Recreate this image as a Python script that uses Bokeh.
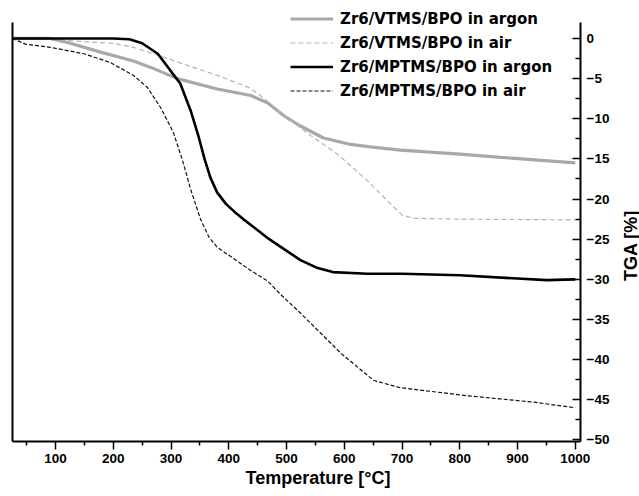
import math
from bokeh.plotting import figure
from bokeh.layouts import row
from bokeh.models import (Range1d, LinearAxis, FixedTicker, Legend, LegendItem, Title)
from bokeh.core.properties import value
from bokeh.embed import file_html
from bokeh.resources import INLINE

# ---- data ----
vtms_argon_t = [25, 90, 121, 178, 235, 265, 311, 380, 438, 467, 495, 524, 564, 611, 645, 697, 800, 871, 1000]
vtms_argon_v = [0, 0, -0.5, -1.7, -2.8, -3.6, -5.0, -6.3, -7.1, -8.0, -9.6, -10.9, -12.4, -13.2, -13.5, -13.9, -14.4, -14.8, -15.5]

vtms_air_t = [25, 100, 150, 200, 235, 282, 322, 351, 380, 438, 460, 495, 524, 542, 588, 640, 680, 700, 720, 800, 1000]
vtms_air_v = [0, -0.1, -0.4, -0.6, -1.1, -2.2, -3.2, -3.9, -4.6, -6.2, -7.4, -9.6, -11.1, -12.1, -14.4, -17.7, -20.6, -22.0, -22.4, -22.5, -22.6]

mptms_argon_t = [25, 100, 200, 228, 250, 277, 299, 316, 334, 348, 358, 368, 380, 395, 410, 425, 445, 470, 495, 524, 554, 580, 640, 700, 800, 900, 950, 1000]
mptms_argon_v = [0, 0, 0, -0.1, -0.6, -1.9, -4.0, -5.6, -9.0, -12.3, -15.0, -17.3, -19.2, -20.6, -21.6, -22.5, -23.6, -25.0, -26.2, -27.6, -28.6, -29.1, -29.3, -29.3, -29.5, -29.9, -30.1, -30.0]

mptms_air_t = [25, 35, 48, 91, 149, 195, 235, 259, 282, 304, 320, 334, 351, 366, 380, 398, 438, 467, 490, 524, 594, 651, 697, 813, 928, 1000]
mptms_air_v = [0, -0.3, -0.7, -1.1, -1.9, -3.0, -4.6, -6.1, -8.6, -11.7, -15.2, -18.8, -22.5, -24.8, -26.0, -26.9, -28.9, -30.2, -31.9, -34.2, -39.2, -42.6, -43.5, -44.5, -45.3, -46.0]

labels = ["Zr6/VTMS/BPO in argon", "Zr6/VTMS/BPO in air",
          "Zr6/MPTMS/BPO in argon", "Zr6/MPTMS/BPO in air"]
x_ticks = [100, 200, 300, 400, 500, 600, 700, 800, 900, 1000]
y_ticks = [0, -5, -10, -15, -20, -25, -30, -35, -40, -45, -50]
x_title = "Temperature [°C]"
y_title = "TGA [%]"

TICK_FONT = "Liberation Sans"
LEG_FONT = "DejaVu Sans"

Y_MIN, Y_MAX = -50.2, 2.0
X_MIN, X_MAX = 25.5, 1009

p = figure(frame_width=568, frame_height=441, output_backend="svg", toolbar_location=None,
           x_range=Range1d(X_MIN, X_MAX), y_range=Range1d(Y_MIN, 4.73),
           x_axis_location=None, y_axis_location=None,
           min_border_left=12, min_border_top=0, min_border_right=40, min_border_bottom=52)
p.outline_line_color = None
p.xgrid.visible = False
p.ygrid.visible = False
p.background_fill_color = "white"
p.border_fill_color = "white"

r1 = p.line(vtms_argon_t, vtms_argon_v, line_color="#a8a8a8", line_width=3.2)
r2 = p.line(vtms_air_t, vtms_air_v, line_color="#b4b4b4", line_width=1.2, line_dash="5 3")
r3 = p.line(mptms_argon_t, mptms_argon_v, line_color="#000000", line_width=2.6)
r4 = p.line(mptms_air_t, mptms_air_v, line_color="#111111", line_width=1.2, line_dash="4 2")

# bottom axis
xa = LinearAxis(ticker=FixedTicker(ticks=x_ticks, minor_ticks=[t - 50 for t in x_ticks]))
xa.axis_line_width = 2
xa.axis_line_color = "black"
xa.major_tick_out = 8
xa.major_tick_in = 0
xa.minor_tick_out = 4
xa.minor_tick_in = 0
xa.major_tick_line_width = 1.5
xa.minor_tick_line_width = 1.5
xa.major_label_text_font = TICK_FONT
xa.major_label_text_font_style = "bold"
xa.major_label_text_font_size = "13.5px"
xa.major_label_text_color = "black"
xa.major_label_standoff = 4
p.add_layout(xa, "below")

# left axis: plain line
la = LinearAxis(ticker=FixedTicker(ticks=[]), bounds=(Y_MIN, Y_MAX))
la.axis_line_width = 2
la.major_tick_line_color = None
la.minor_tick_line_color = None
la.major_label_text_font_size = "0px"
p.add_layout(la, "left")

# right axis
ra = LinearAxis(ticker=FixedTicker(ticks=y_ticks, minor_ticks=[t - 2.5 for t in y_ticks]),
                bounds=(Y_MIN, Y_MAX))
ra.axis_line_width = 2
ra.major_tick_in = 8
ra.major_tick_out = 0
ra.minor_tick_in = 5
ra.minor_tick_out = 0
ra.major_tick_line_width = 1.5
ra.minor_tick_line_width = 1.5
ra.major_label_text_font = TICK_FONT
ra.major_label_text_font_style = "bold"
ra.major_label_text_font_size = "13.5px"
ra.major_label_text_color = "black"
ra.major_label_standoff = 6
p.add_layout(ra, "right")

# x axis title
xt = Title(text=x_title, align="left", offset=233, text_font=TICK_FONT, text_font_style="bold",
           text_font_size="18px", text_color="black", standoff=0)
p.add_layout(xt, "below")

legend = Legend(items=[LegendItem(label=l, renderers=[r]) for l, r in zip(labels, [r1, r2, r3, r4])],
                location=(278, 340), border_line_color=None, background_fill_alpha=0,
                padding=0, margin=0, spacing=3, label_height=21, glyph_height=21, glyph_width=43,
                label_standoff=7, label_text_font=LEG_FONT, label_text_font_style="bold",
                label_text_font_size="15px", label_text_color="black")
p.add_layout(legend, "center")

# narrow figure holding the y title (reads bottom-to-top)
H = 441 + 52
W2 = 19
p2 = figure(width=W2, height=H, output_backend="svg", toolbar_location=None,
            x_range=Range1d(0, W2), y_range=Range1d(0, H), min_border=0,
            x_axis_location=None, y_axis_location=None)
p2.outline_line_color = None
p2.xgrid.visible = False
p2.ygrid.visible = False
p2.text(x=[10], y=[H - 274], text=[y_title], angle=math.pi / 2,
        text_font=value(TICK_FONT), text_font_style="bold", text_font_size="18px",
        text_align="center", text_baseline="middle", text_color="black")

layout = row(p, p2, spacing=0)
open("out.html", "w").write(file_html(layout, INLINE))
